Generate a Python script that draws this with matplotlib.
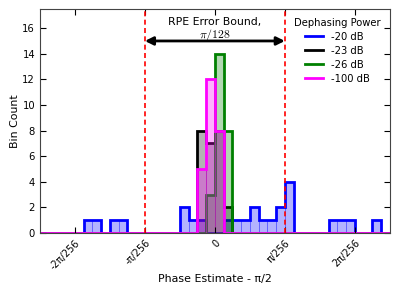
import numpy as np
import matplotlib
matplotlib.use('Agg')
import matplotlib.pyplot as plt

# bin edges in units of pi/256, bin width pi/2048
bin_width = 1 / 8
bin_starts = np.arange(-20, 20)

# counts per bin start index (index * bin_width = left edge)
blue_idx = [-15, -14, -12, -11, -4, -3, -2, 1, 2, 3, 4, 5, 6, 7, 8, 13, 14, 15, 18]
blue_cnt = [1, 1, 1, 1, 2, 1, 1, 1, 1, 1, 2, 1, 1, 2, 4, 1, 1, 1, 1]
black_idx = [-2, -1, 0, 1]
black_cnt = [8, 7, 8, 2]
green_idx = [-1, 0, 1]
green_cnt = [3, 14, 8]
pink_idx = [-2, -1, 0]
pink_cnt = [5, 12, 8]

labels = ['-20 dB', '-23 dB', '-26 dB', '-100 dB']
colors = ['#0000ff', 'k', '#008000', '#ff00ff']
tick_pos = [-2, -1, 0, 1, 2]
tick_lbl = ['-2π/256', '-π/256', '0', 'π/256', '2π/256']


def counts(idx, cnt):
    vals = np.zeros(len(bin_starts))
    for i, c in zip(idx, cnt):
        vals[i - bin_starts[0]] = c
    return vals


fig = plt.figure(figsize=(3.99, 2.99), dpi=100)
ax = fig.add_axes([0.1, 0.221, 0.877, 0.749])
edges = np.append(bin_starts, bin_starts[-1] + 1) * bin_width
centers = (bin_starts + 0.5) * bin_width

series = [(blue_idx, blue_cnt), (black_idx, black_cnt),
          (green_idx, green_cnt), (pink_idx, pink_cnt)]
for (idx, cnt), c, lab in zip(series, colors, labels):
    vals = counts(idx, cnt)
    mask = vals > 0
    ax.bar(centers[mask], vals[mask], width=bin_width, color=c, alpha=0.3,
           edgecolor=c, linewidth=0.6)
    ax.stairs(vals, edges, color=c, linewidth=2, label=lab)

ax.axvline(-1, color='r', ls=(0, (3, 2)), lw=1.2)
ax.axvline(1, color='r', ls=(0, (3, 2)), lw=1.2)
ax.annotate('', xy=(-1, 15), xytext=(1, 15),
            arrowprops=dict(arrowstyle='<|-|>', color='k', lw=2,
                            mutation_scale=12, shrinkA=0, shrinkB=0))
ax.text(0, 16.45, 'RPE Error Bound,', ha='center', va='center', fontsize=7.8)
ax.text(0, 15.5, r'$\pi/128$', ha='center', va='center', fontsize=8.5,
        math_fontfamily='cm')

ax.set_xlim(-2.5, 2.5)
ax.set_ylim(0, 17.5)
ax.set_yticks(range(0, 17, 2))
ax.set_xticks(tick_pos)
ax.set_xticklabels(tick_lbl, rotation=45, fontsize=7, ha='right', va='top',
                   rotation_mode='anchor')
ax.tick_params(axis='y', labelsize=7.2)
ax.tick_params(direction='in', top=True, right=True, length=4)
ax.set_xlabel('Phase Estimate - π/2', fontsize=7.9, labelpad=2)
ax.set_ylabel('Bin Count', fontsize=7.9, labelpad=1.5)
for s in ax.spines.values():
    s.set_color('#444444')

ax.legend(title='Dephasing Power', loc='upper right', frameon=False,
          fontsize=7.2, title_fontsize=7.2, handlelength=1.8,
          handletextpad=0.8, borderaxespad=0.5, labelspacing=0.4)

fig.savefig('out.png', dpi=100)
